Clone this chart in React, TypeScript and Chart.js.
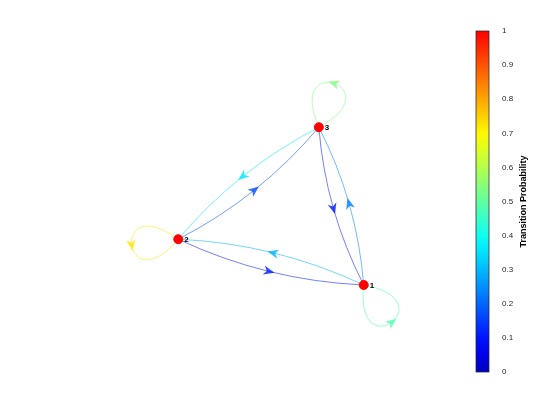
import { useEffect, useRef } from "react";
import { Chart, registerables } from "chart.js";

Chart.register(...registerables);

// states of the Markov chain and their layout coordinates
const stateLabels = ["1", "2", "3"];
const stateX = [1.0, -1.0, 0.516];
const stateY = [-0.47, 0.0, 1.15];

// transition matrix (row = from, column = to)
const transP = [
  [0.45, 0.3, 0.25],
  [0.15, 0.65, 0.2],
  [0.15, 0.35, 0.5],
];

// direction (screen space) in which each self-loop points
const loopDirX = [0.6, -1.0, 0.33];
const loopDirY = [0.8, 0.12, -0.94];

const colorbarTicks = [0, 0.1, 0.2, 0.3, 0.4, 0.5, 0.6, 0.7, 0.8, 0.9, 1];

function jet(v: number, a = 1) {
  const c = (x: number) => Math.max(0, Math.min(1, x));
  const r = c(1.5 - Math.abs(4 * v - 3));
  const g = c(1.5 - Math.abs(4 * v - 2));
  const b = c(1.5 - Math.abs(4 * v - 1));
  return `rgba(${Math.round(r * 255)},${Math.round(g * 255)},${Math.round(b * 255)},${a})`;
}

function arrowHead(ctx: CanvasRenderingContext2D, x: number, y: number, ang: number, color: string) {
  ctx.save();
  ctx.translate(x, y);
  ctx.rotate(ang);
  ctx.fillStyle = color;
  ctx.beginPath();
  ctx.moveTo(6, 0);
  ctx.lineTo(-5, -4.5);
  ctx.lineTo(-2, 0);
  ctx.lineTo(-5, 4.5);
  ctx.closePath();
  ctx.fill();
  ctx.restore();
}

const edgePlugin = {
  id: "edges",
  beforeDatasetsDraw(chart: any) {
    const { ctx, scales } = chart;
    const px = stateX.map((v) => scales.x.getPixelForValue(v));
    const py = stateY.map((v) => scales.y.getPixelForValue(v));
    ctx.save();
    ctx.lineWidth = 1;
    for (let i = 0; i < 3; i++) {
      for (let j = 0; j < 3; j++) {
        const p = transP[i][j];
        if (!p) continue;
        const col = jet(p, 0.55);
        ctx.strokeStyle = col;
        if (i === j) {
          const dx = loopDirX[i], dy = loopDirY[i];
          const d = 85, s = 0.75;
          const ca = Math.cos(s), sa = Math.sin(s);
          const ax = dx * ca - dy * sa, ay = dx * sa + dy * ca;
          const bx = dx * ca + dy * sa, by = -dx * sa + dy * ca;
          const x0 = px[i], y0 = py[i];
          const c1x = x0 + ax * d, c1y = y0 + ay * d;
          const c2x = x0 + bx * d, c2y = y0 + by * d;
          ctx.beginPath();
          ctx.moveTo(x0, y0);
          ctx.bezierCurveTo(c1x, c1y, c2x, c2y, x0, y0);
          ctx.stroke();
          const t = 0.5;
          const mt = 1 - t;
          const mx = 3 * mt * mt * t * c1x + 3 * mt * t * t * c2x + mt * mt * mt * x0 + t * t * t * x0;
          const my = 3 * mt * mt * t * c1y + 3 * mt * t * t * c2y + mt * mt * mt * y0 + t * t * t * y0;
          arrowHead(ctx, mx, my, Math.atan2(c2y - c1y, c2x - c1x), jet(p, 0.8));
        } else {
          const x0 = px[i], y0 = py[i], x1 = px[j], y1 = py[j];
          const dx = x1 - x0, dy = y1 - y0;
          const cx = (x0 + x1) / 2 - dy * 0.1, cy = (y0 + y1) / 2 + dx * 0.1;
          ctx.beginPath();
          ctx.moveTo(x0, y0);
          ctx.quadraticCurveTo(cx, cy, x1, y1);
          ctx.stroke();
          const mx = 0.25 * x0 + 0.5 * cx + 0.25 * x1;
          const my = 0.25 * y0 + 0.5 * cy + 0.25 * y1;
          arrowHead(ctx, mx, my, Math.atan2(dy, dx), jet(p, 0.8));
        }
      }
    }
    ctx.restore();
  },
  afterDatasetsDraw(chart: any) {
    const { ctx, scales } = chart;
    ctx.save();
    ctx.fillStyle = "#000";
    ctx.font = "bold 8px 'Liberation Sans', Arial";
    ctx.textBaseline = "middle";
    stateLabels.forEach((l, k) => {
      ctx.fillText(l, scales.x.getPixelForValue(stateX[k]) + 6, scales.y.getPixelForValue(stateY[k]) + 1);
    });
    ctx.restore();
  },
};

const colorbarPlugin = {
  id: "cbar",
  afterDraw(chart: any) {
    const { ctx, chartArea } = chart;
    ctx.save();
    ctx.strokeStyle = "#262626";
    ctx.lineWidth = 0.75;
    ctx.strokeRect(chartArea.left, chartArea.top, chartArea.right - chartArea.left, chartArea.bottom - chartArea.top);
    ctx.translate(chartArea.right + 35, (chartArea.top + chartArea.bottom) / 2);
    ctx.rotate(-Math.PI / 2);
    ctx.fillStyle = "#000";
    ctx.font = "bold 9px 'Liberation Sans', Arial";
    ctx.textAlign = "center";
    ctx.textBaseline = "middle";
    ctx.fillText("Transition Probability", 0, 0);
    ctx.restore();
  },
};

export default function App() {
  const graphRef = useRef<HTMLCanvasElement | null>(null);
  const barRef = useRef<HTMLCanvasElement | null>(null);

  useEffect(() => {
    if (!graphRef.current || !barRef.current) return;
    const graph = new Chart(graphRef.current, {
      type: "scatter",
      data: {
        datasets: [
          {
            data: stateX.map((x, k) => ({ x, y: stateY[k] })),
            backgroundColor: "#ff0000",
            borderColor: "#ff0000",
            pointRadius: 4.5,
          },
        ],
      },
      options: {
        animation: false,
        responsive: false,
        layout: { padding: 0 },
        plugins: { legend: { display: false }, tooltip: { enabled: false } },
        scales: {
          x: { display: false, min: -2.863, max: 1.979 },
          y: { display: false, min: -1.8, max: 2.4 },
        },
      },
      plugins: [edgePlugin],
    });

    const bar = new Chart(barRef.current, {
      type: "bar",
      data: {
        labels: [""],
        datasets: [
          {
            data: [[0, 1]] as any,
            barPercentage: 1,
            categoryPercentage: 1,
            backgroundColor: (c: any) => {
              const a = c.chart.chartArea;
              if (!a) return "#000";
              const g = c.chart.ctx.createLinearGradient(0, a.bottom, 0, a.top);
              for (let k = 0; k <= 20; k++) g.addColorStop(k / 20, jet(k / 20 * 0.875 + 0.0625 * (1 - k / 20) + 0.0625 * 0));
              return g;
            },
          },
        ],
      },
      options: {
        animation: false,
        responsive: false,
        layout: { padding: { top: 31, bottom: 48, left: 10, right: 0 } },
        plugins: { legend: { display: false }, tooltip: { enabled: false } },
        scales: {
          x: { display: false },
          y: {
            position: "right",
            min: 0,
            max: 1,
            afterBuildTicks: (s: any) => {
              s.ticks = colorbarTicks.map((v) => ({ value: v }));
            },
            afterFit: (s: any) => {
              s.width = 71;
            },
            grid: { display: false },
            border: { display: false },
            ticks: {
              padding: 5,
              color: "#262626",
              font: { size: 8, family: "'Liberation Sans', Arial" },
              callback: (v: any) => String(v),
            },
          },
        },
      },
      plugins: [colorbarPlugin],
    });

    return () => {
      graph.destroy();
      bar.destroy();
    };
  }, []);

  return (
    <div style={{ position: "fixed", left: 0, top: 0, width: 560, height: 420, background: "#fff" }}>
      <canvas ref={graphRef} width={460} height={420} style={{ position: "absolute", left: 0, top: 0 }} />
      <canvas ref={barRef} width={94} height={420} style={{ position: "absolute", left: 466, top: 0 }} />
    </div>
  );
}
